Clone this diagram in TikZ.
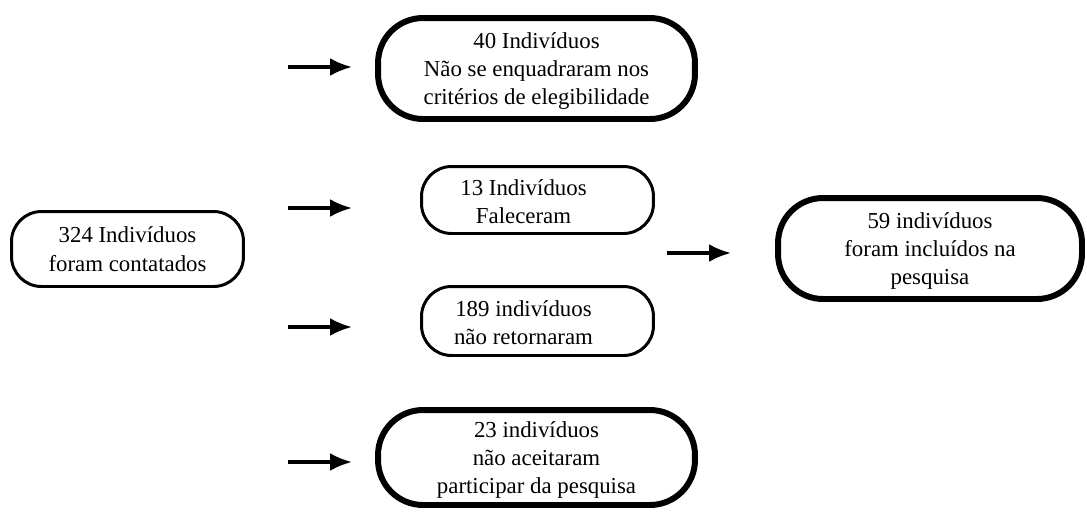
\documentclass[tikz,border=0pt]{standalone}
\usepackage{fontspec}
\setmainfont{Liberation Serif}
\usetikzlibrary{arrows.meta,positioning}

% text pushed a little to the left inside its box
\newcommand{\lefttext}[1]{\begin{tabular}[b]{@{}c@{\hspace{0.56cm}}}#1\end{tabular}}

\begin{document}
\begin{tikzpicture}[
            x=0.02cm, y=-0.02cm,
            every node/.style={align=center, font=\fontsize{13}{16}\selectfont},
            bigbox/.style={draw, line width=3.4pt, rounded corners=0.9cm, minimum width=6.34cm, minimum height=2.02cm, text depth=0pt},
            smallbox/.style={draw, line width=1.7pt, rounded corners=0.6cm, minimum width=4.64cm, inner sep=0pt, text depth=0pt},
            flow/.style={-{Latex[length=0.44cm,width=0.36cm]}, line width=1.9pt}
  ]

  \useasboundingbox (0,0) rectangle (1087,511);

  \node[smallbox, minimum height=1.5cm] (contact) at (127.5,249) {324 Indivíduos\\foram contatados};

  \node[bigbox] (elig) at (536.5,68.5) {40 Indivíduos\\Não se enquadraram nos\\critérios de elegibilidade};
  \node[smallbox, minimum height=1.34cm] (died) at (537.5,200) {\lefttext{13 Indivíduos\\Faleceram}};
  \node[smallbox, minimum height=1.38cm] (noreturn) at (537.5,321) {\lefttext{189 indivíduos\\não retornaram}};
  \node[bigbox, minimum height=1.9cm] (refused) at (536.5,457.5) {23 indivíduos\\não aceitaram\\participar da pesquisa};

  \node[bigbox, minimum width=6.08cm] (included) at (930,248.5) {59 indivíduos\\foram incluídos na\\pesquisa};

  % loose arrows
  \coordinate (e1) at (288,67);  \coordinate (e1a) at (352,67);
  \coordinate (e2) at (288,208); \coordinate (e2a) at (352,208);
  \coordinate (e3) at (288,327); \coordinate (e3a) at (352,327);
  \coordinate (e4) at (288,462); \coordinate (e4a) at (352,462);
  \coordinate (e5) at (667,253); \coordinate (e5a) at (731,253);

  \draw[flow] (e1) -- (e1a);
  \draw[flow] (e2) -- (e2a);
  \draw[flow] (e3) -- (e3a);
  \draw[flow] (e4) -- (e4a);
  \draw[flow] (e5) -- (e5a);

\end{tikzpicture}
\end{document}
